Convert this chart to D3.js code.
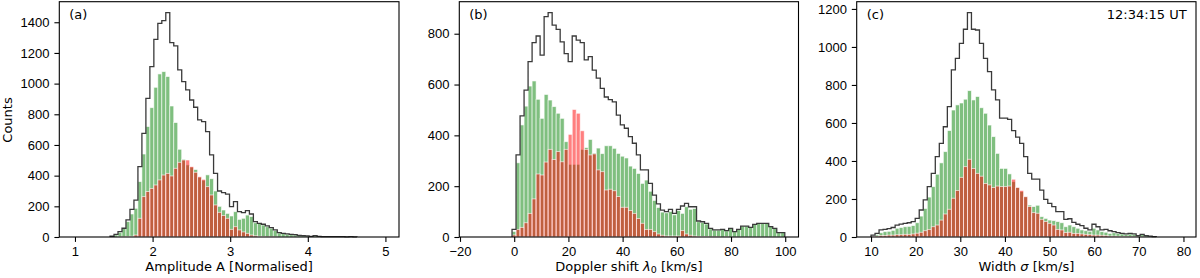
<!DOCTYPE html>
<html>
<head>
<meta charset="utf-8">
<script src="https://cdn.jsdelivr.net/npm/d3@7"></script>
<style>
  body { margin: 0; background: #fff; }
  svg { display: block; font-family: "DejaVu Sans", sans-serif; }
  .axis text { font-size: 13px; fill: #000; }
  .axis line { stroke: #000; stroke-width: 1.1; }
  .lbl { font-size: 13px; fill: #000; }
</style>
</head>
<body>
<div id="chart"></div>
<script>
// (a) amplitude histogram: first bin edge, bin width, counts per bin
var aStart = 1.452, aWidth = 0.0513;
var aTotal = [5, 17, 35, 57, 111, 180, 241, 459, 676, 904, 1111, 1289, 1393, 1411, 1463, 1267, 1246, 1089, 1013, 959,
  893, 846, 763, 752, 687, 535, 415, 300, 289, 280, 198, 230, 165, 159, 172, 150, 100, 89, 83, 72,
  61, 46, 28, 24, 20, 17, 15, 11, 9, 7, 4, 9, 4, 3, 3, 2, 3, 2, 2, 1, 2, 1];
var aGreen = [3, 13, 30, 55, 100, 150, 187, 361, 541, 720, 843, 976, 1063, 1078, 1046, 854, 746, 572, 507, 470,
  455, 440, 390, 370, 405, 380, 300, 200, 176, 154, 137, 165, 115, 122, 143, 133, 93, 89, 78, 67,
  57, 42, 26, 22, 18, 15, 13, 10, 8, 6, 3, 8, 3, 3, 2, 2, 2, 1, 1, 1, 1, 0];
var aRed = [0, 0, 1, 2, 3, 5, 13, 122, 263, 296, 317, 339, 372, 404, 415, 398, 448, 487, 502, 502,
  459, 422, 393, 376, 328, 274, 209, 161, 140, 122, 50, 67, 46, 33, 24, 13, 8, 5, 3, 2,
  2, 1, 0, 0, 0, 0, 0, 0, 0, 0, 0, 0, 0, 0, 0, 0, 0, 0, 0, 0, 0, 0];

// (b) Doppler shift histogram
var bStart = -0.8, bWidth = 1.48;
var bTotal = [30, 323, 477, 578, 690, 765, 791, 716, 867, 883, 834, 817, 768, 722, 690, 791, 775, 765, 697, 710,
  657, 625, 585, 551, 541, 532, 480, 441, 428, 395, 369, 323, 264, 264, 211, 165, 130, 106, 100, 109,
  93, 109, 122, 132, 119, 119, 63, 60, 54, 34, 28, 28, 30, 25, 34, 21, 30, 43, 43, 38,
  50, 54, 54, 54, 41, 34, 17, 17];
var bGreen = [22, 292, 441, 515, 594, 614, 542, 467, 561, 539, 513, 487, 467, 375, 286, 286, 286, 345, 352, 384,
  330, 350, 328, 359, 359, 349, 329, 318, 311, 279, 270, 250, 211, 224, 180, 144, 116, 98, 95, 100,
  87, 104, 93, 119, 109, 112, 60, 57, 51, 32, 27, 27, 30, 24, 34, 21, 30, 43, 43, 38,
  50, 54, 54, 54, 41, 34, 17, 17];
var bRed = [8, 30, 38, 56, 93, 150, 248, 244, 295, 345, 305, 336, 296, 345, 404, 502, 487, 418, 345, 323,
  327, 264, 257, 185, 188, 182, 159, 117, 117, 104, 93, 73, 54, 30, 30, 21, 12, 7, 4, 4,
  4, 4, 25, 12, 7, 4, 3, 2, 2, 1, 1, 1, 0, 1, 0, 0, 0, 0, 0, 0,
  0, 0, 0, 0, 0, 0, 0, 0];

// (c) width histogram
var cStart = 10, cWidth = 0.9;
var cTotal = [10, 19, 37, 40, 44, 50, 63, 68, 72, 75, 81, 98, 142, 195, 265, 335, 423, 493, 580, 686,
  879, 940, 1019, 1093, 1181, 1093, 1089, 1019, 940, 870, 774, 721, 625, 625, 619, 560, 525, 493, 423, 335,
  304, 304, 247, 198, 177, 160, 133, 133, 93, 96, 77, 67, 60, 46, 37, 67, 54, 37, 40, 33,
  28, 23, 19, 16, 19, 16, 7, 14, 7, 5, 2];
var cGreen = [5, 12, 22, 28, 30, 35, 46, 50, 54, 56, 60, 75, 110, 150, 210, 265, 330, 390, 449, 560,
  668, 695, 705, 725, 770, 721, 739, 680, 651, 589, 528, 440, 361, 361, 332, 291, 261, 239, 212, 168,
  160, 167, 107, 98, 89, 86, 81, 75, 54, 63, 54, 46, 37, 33, 30, 46, 37, 28, 25, 19,
  22, 19, 16, 14, 16, 14, 6, 12, 6, 4, 2];
var cRed = [2, 5, 8, 8, 10, 10, 12, 12, 14, 14, 16, 20, 25, 33, 40, 54, 63, 89, 121, 146,
  204, 245, 314, 370, 409, 361, 335, 320, 282, 274, 261, 268, 265, 265, 268, 304, 261, 245, 212, 160,
  128, 125, 93, 81, 72, 63, 40, 37, 23, 25, 19, 19, 16, 14, 12, 10, 10, 9, 7, 5,
  5, 4, 3, 3, 2, 2, 1, 1, 0, 0, 0];

var aXTicks = [1, 2, 3, 4, 5], aYTicks = [0, 200, 400, 600, 800, 1000, 1200, 1400];
var bXTicks = [-20, 0, 20, 40, 60, 80, 100], bYTicks = [0, 200, 400, 600, 800];
var cXTicks = [10, 20, 30, 40, 50, 60, 70, 80], cYTicks = [0, 200, 400, 600, 800, 1000, 1200];

var width = 1200, height = 278;
var plotTop = 1.7, plotH = 235.3;

var svg = d3.select("#chart").append("svg")
    .attr("width", width)
    .attr("height", height);

var panels = [
  { left: 59.3, right: 399, xDomain: [0.798, 5.175], yMax: 1534, start: aStart, bw: aWidth,
    total: aTotal, green: aGreen, red: aRed, xTicks: aXTicks, yTicks: aYTicks, tag: "(a)" },
  { left: 459.3, right: 798.5, xDomain: [-20.26, 104.9], yMax: 926, start: bStart, bw: bWidth,
    total: bTotal, green: bGreen, red: bRed, xTicks: bXTicks, yTicks: bYTicks, tag: "(b)" },
  { left: 856.7, right: 1196, xDomain: [6.79, 82.81], yMax: 1238, start: cStart, bw: cWidth,
    total: cTotal, green: cGreen, red: cRed, xTicks: cXTicks, yTicks: cYTicks, tag: "(c)" }
];

var fmt = d3.format("d");

panels.forEach(function (p, pi) {
    var w = p.right - p.left, h = plotH;
    var g = svg.append("g").attr("transform", "translate(" + p.left + "," + plotTop + ")");

    var xScale = d3.scaleLinear().domain(p.xDomain).range([0, w]);
    var yScale = d3.scaleLinear().domain([0, p.yMax]).range([h, 0]);

    function bins(counts) {
        return counts.map(function (c, i) {
            return { x0: p.start + i * p.bw, x1: p.start + (i + 1) * p.bw, c: c };
        });
    }

    function drawBars(counts, color) {
        g.append("g").selectAll("rect")
            .data(bins(counts).filter(function (d) { return d.c > 0; }))
            .enter().append("rect")
            .attr("x", function (d) { return xScale(d.x0); })
            .attr("width", function (d) { return xScale(d.x1) - xScale(d.x0); })
            .attr("y", function (d) { return yScale(d.c); })
            .attr("height", function (d) { return h - yScale(d.c); })
            .attr("fill", color)
            .attr("fill-opacity", 0.5)
            .attr("stroke", "#fff")
            .attr("stroke-opacity", 0.75)
            .attr("stroke-width", 0.8);
    }

    drawBars(p.green, "#008000");
    drawBars(p.red, "#ff0000");

    // outline of the total counts as a step line
    var pts = [[p.start, 0]];
    p.total.forEach(function (c, i) { pts.push([p.start + i * p.bw, c]); });
    pts.push([p.start + p.total.length * p.bw, 0]);

    var line = d3.line()
        .x(function (d) { return xScale(d[0]); })
        .y(function (d) { return yScale(d[1]); })
        .curve(d3.curveStepAfter);

    g.append("path")
        .datum(pts)
        .attr("d", line)
        .attr("fill", "none")
        .attr("stroke", "#3a3a3a")
        .attr("stroke-width", 1.3)
        .attr("stroke-linejoin", "miter");

    var xAxis = g.append("g")
        .attr("class", "axis")
        .attr("transform", "translate(0," + h + ")")
        .call(d3.axisBottom(xScale).tickValues(p.xTicks).tickFormat(fmt).tickSize(4.9).tickPadding(4.9));
    xAxis.select(".domain").remove();

    var yAxis = g.append("g")
        .attr("class", "axis")
        .call(d3.axisLeft(yScale).tickValues(p.yTicks).tickFormat(fmt).tickSize(4.9).tickPadding(4.9));
    yAxis.select(".domain").remove();

    g.append("rect")
        .attr("width", w)
        .attr("height", h)
        .attr("fill", "none")
        .attr("stroke", "#000")
        .attr("stroke-width", 1.1);

    g.append("text")
        .attr("class", "lbl")
        .attr("x", 10)
        .attr("y", 17.5)
        .text(p.tag);

    var xl = g.append("text")
        .attr("class", "lbl")
        .attr("x", w / 2)
        .attr("y", 271 - plotTop)
        .attr("text-anchor", "middle");

    if (pi === 0) {
        xl.text("Amplitude A [Normalised]");
    } else if (pi === 1) {
        xl.append("tspan").text("Doppler shift ");
        xl.append("tspan").style("font-style", "italic").text("λ");
        xl.append("tspan").attr("dy", 2.5).style("font-size", "9.5px").text("0");
        xl.append("tspan").attr("dy", -2.5).text(" [km/s]");
    } else {
        xl.append("tspan").text("Width ");
        xl.append("tspan").style("font-style", "italic").text("σ");
        xl.append("tspan").text(" [km/s]");
        g.append("text")
            .attr("class", "lbl")
            .attr("x", w - 9.3)
            .attr("y", 17.5)
            .attr("text-anchor", "end")
            .text("12:34:15 UT");
    }
});

svg.append("text")
    .attr("class", "lbl")
    .attr("transform", "translate(11.5,120) rotate(-90)")
    .attr("text-anchor", "middle")
    .text("Counts");
</script>
</body>
</html>
